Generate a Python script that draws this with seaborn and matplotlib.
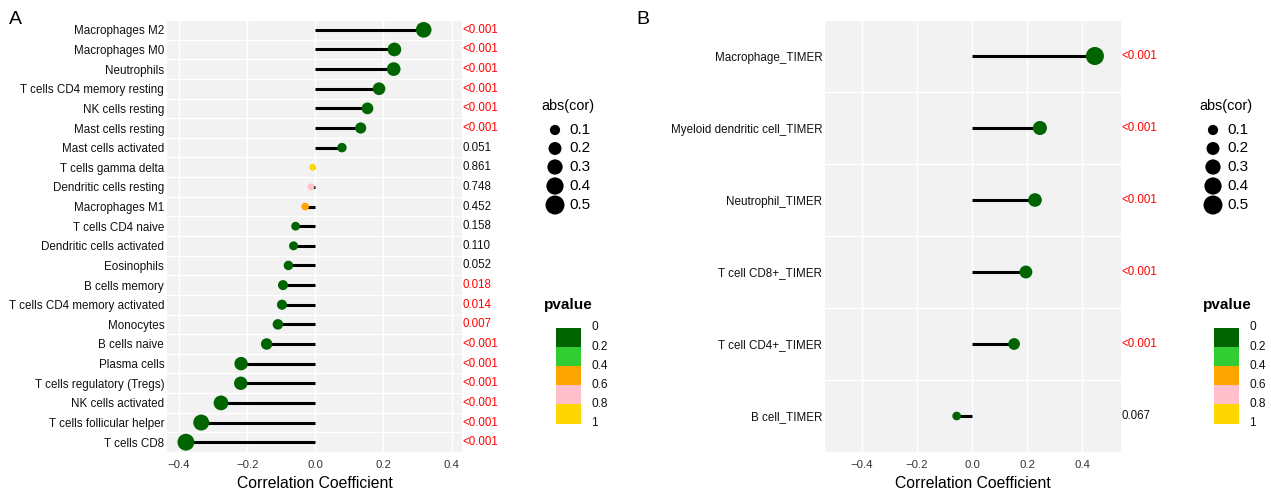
import numpy as np
import pandas as pd
import seaborn as sns
import matplotlib.pyplot as plt
from matplotlib.patches import Rectangle
import matplotlib.transforms as mtransforms

plt.rcParams['font.family'] = ['Liberation Sans', 'DejaVu Sans']

# Panel A data (CIBERSORT)
cells_a = ["Macrophages M2", "Macrophages M0", "Neutrophils", "T cells CD4 memory resting",
           "NK cells resting", "Mast cells resting", "Mast cells activated", "T cells gamma delta",
           "Dendritic cells resting", "Macrophages M1", "T cells CD4 naive",
           "Dendritic cells activated", "Eosinophils", "B cells memory",
           "T cells CD4 memory activated", "Monocytes", "B cells naive", "Plasma cells",
           "T cells regulatory (Tregs)", "NK cells activated", "T cells follicular helper",
           "T cells CD8"]
cor_a = [0.318, 0.232, 0.230, 0.187, 0.153, 0.133, 0.078, -0.008, -0.013, -0.030, -0.058,
         -0.064, -0.079, -0.095, -0.098, -0.110, -0.143, -0.218, -0.219, -0.277, -0.335, -0.380]
pval_a = [0.0001, 0.0001, 0.0001, 0.0001, 0.0001, 0.0001, 0.051, 0.861, 0.748, 0.452, 0.158,
          0.110, 0.052, 0.018, 0.014, 0.007, 0.0001, 0.0001, 0.0001, 0.0001, 0.0001, 0.0001]

# Panel B data (TIMER)
cells_b = ["Macrophage_TIMER", "Myeloid dendritic cell_TIMER", "Neutrophil_TIMER",
           "T cell CD8+_TIMER", "T cell CD4+_TIMER", "B cell_TIMER"]
cor_b = [0.447, 0.247, 0.229, 0.196, 0.153, -0.056]
pval_b = [0.0001, 0.0001, 0.0001, 0.0001, 0.0001, 0.067]

bin_colors = ["#006400", "#32CD32", "#FFA500", "#FFC0CB", "#FFD700"]
bin_edges = [0, 0.2, 0.4, 0.6, 0.8, 1]
size_levels = [0.1, 0.2, 0.3, 0.4, 0.5]

S0, S1 = (6.3 * 0.72) ** 2, (19 * 0.72) ** 2


def pcolor(p):
    return bin_colors[min(int(p / 0.2), 4)]


def plabel(p):
    return "<0.001" if p < 0.001 else f"{p:.3f}"


def lollipop(ax, cells, cor, pval, xlim, xticks):
    df = pd.DataFrame({"cell": cells, "cor": cor, "pvalue": pval})
    df["pos"] = np.arange(len(df))
    df["abs"] = df["cor"].abs()
    df["col"] = df["pvalue"].map(pcolor)
    n = len(df)

    ax.set_facecolor("#F2F2F2")
    for t in xticks:
        ax.axvline(t, color="white", lw=1.0, zorder=0)
    for b in np.arange(n + 1) - 0.5:
        ax.axhline(b, color="white", lw=1.0, zorder=0)

    ax.hlines(df["pos"], 0, df["cor"], color="black", lw=2.2, zorder=2)
    sns.scatterplot(data=df, x="cor", y="pos", hue="col", palette={c: c for c in bin_colors},
                    size="abs", sizes=(S0, S1), size_norm=(0, 0.5), linewidth=0,
                    legend=False, ax=ax, zorder=3)

    trans = mtransforms.blended_transform_factory(ax.transAxes, ax.transData)
    for _, r in df.iterrows():
        ax.text(1.001, r["pos"], plabel(r["pvalue"]), transform=trans, ha="left", va="center",
                fontsize=8.3, color="red" if r["pvalue"] < 0.05 else "#111111", clip_on=False)

    ax.set_xlim(*xlim)
    ax.set_ylim(n - 0.5, -0.5)
    ax.set_xticks(xticks)
    ax.set_xticklabels([f"{t:.1f}".replace("-", "\u2212") for t in xticks])
    ax.set_yticks(df["pos"])
    ax.set_yticklabels(df["cell"])
    ax.tick_params(axis="x", length=0, pad=6, labelsize=8.2, labelcolor="#333333")
    ax.tick_params(axis="y", length=0, pad=2, labelsize=8.4, labelcolor="#111111")
    ax.set_xlabel("Correlation Coefficient", fontsize=11.3, labelpad=4)
    ax.set_ylabel("")
    for s in ax.spines.values():
        s.set_visible(False)


W, H = 1271, 495
fig = plt.figure(figsize=(W / 100, H / 100), dpi=100)


def px_axes(x0, y0, x1, y1):
    return fig.add_axes([x0 / W, 1 - y1 / H, (x1 - x0) / W, (y1 - y0) / H])


ax_a = px_axes(167, 20, 462, 452)
lollipop(ax_a, cells_a, cor_a, pval_a, (-0.4355, 0.4305), [-0.4, -0.2, 0.0, 0.2, 0.4])

ax_b = px_axes(825, 20, 1121, 452)
lollipop(ax_b, cells_b, cor_b, pval_b, (-0.535, 0.542), [-0.4, -0.2, 0.0, 0.2, 0.4])

# overlay in pixel coordinates for legends and panel letters
ov = fig.add_axes([0, 0, 1, 1], zorder=10)
ov.set_xlim(0, W)
ov.set_ylim(H, 0)
ov.axis("off")
ov.patch.set_alpha(0)

fig.text(9 / W, 1 - 19 / H, "A", fontsize=14, va="center", ha="left")
fig.text(636 / W, 1 - 19 / H, "B", fontsize=14, va="center", ha="left")

legend_pos = [
    # size title x, dot x, label x, bar x, bar label x, pvalue title x
    (541, 555, 569, 556, 591, 544),
    (1199, 1213, 1227, 1214, 1249, 1203),
]
size_y = [130, 148.5, 167, 186, 205]
for tx, dx, lx, bx, blx, ptx in legend_pos:
    ov.text(tx, 106, "abs(cor)", fontsize=10.4, ha="left", va="center")
    ov.scatter([dx] * len(size_levels), size_y,
               s=[S0 + (S1 - S0) * v / 0.5 for v in size_levels], color="black", linewidth=0)
    for v, y in zip(size_levels, size_y):
        ov.text(lx, y, f"{v:.1f}", fontsize=11, ha="left", va="center")

    ov.text(ptx, 305, "pvalue", fontsize=11, fontweight="bold", ha="left", va="center")
    y0, hstep = 327.5, 19.2
    for i, c in enumerate(bin_colors):
        ov.add_patch(Rectangle((bx, y0 + i * hstep), 25, hstep, facecolor=c, edgecolor="none"))
    for i, e in enumerate(bin_edges):
        ov.text(blx, y0 + i * hstep, f"{e:g}", fontsize=8.6, ha="left", va="center", color="#111111")

fig.savefig("out.png", dpi=100)
